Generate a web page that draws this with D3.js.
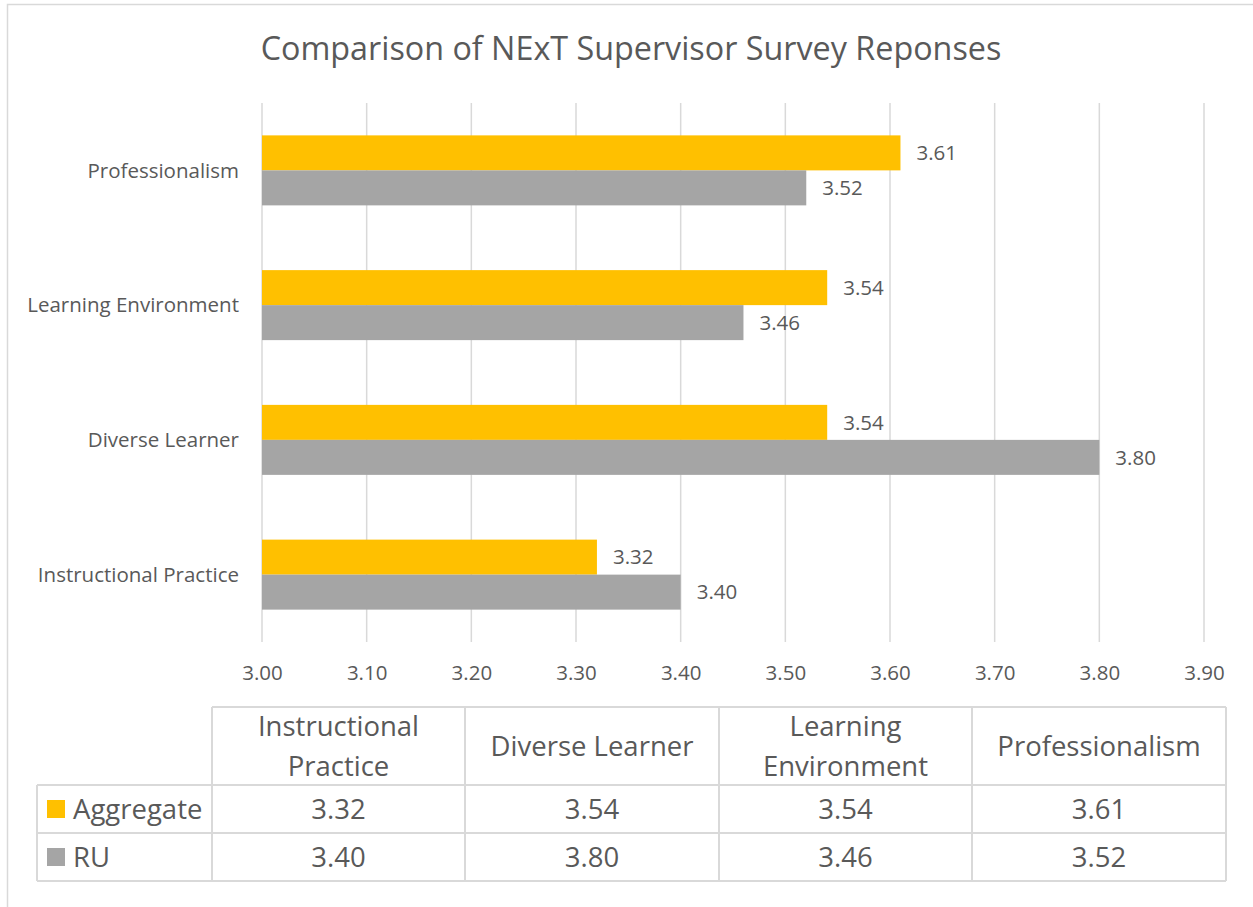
<!DOCTYPE html>
<html><head><meta charset="utf-8">
<script src="https://cdn.jsdelivr.net/npm/d3@7"></script>
<style>body{margin:0;background:#fff}svg{display:block;font-family:"Open Sans",sans-serif}</style>
</head><body><svg id="c" width="1253" height="907"></svg>
<script>
const categories = ["Instructional Practice","Diverse Learner","Learning Environment","Professionalism"];
const tableHeaders = [["Instructional","Practice"],["Diverse Learner"],["Learning","Environment"],["Professionalism"]];
const seriesNames = ["Aggregate","RU"];
const aggregate = [3.32,3.54,3.54,3.61];
const ru = [3.40,3.80,3.46,3.52];
const ticks = [3.00,3.10,3.20,3.30,3.40,3.50,3.60,3.70,3.80,3.90];
const colors = ["#FFC000","#A5A5A5"];
const title = "Comparison of NExT Supervisor Survey Reponses";

const svg = d3.select("#c");
const txt = "#595959", grid = "#D9D9D9";
svg.append("rect").attr("x",7.5).attr("y",4.5).attr("width",1260).attr("height",920)
  .attr("fill","#fff").attr("stroke","#D9D9D9").attr("stroke-width",1.5);

svg.append("text").attr("x",631).attr("y",60).attr("text-anchor","middle")
  .attr("font-size",32.3).attr("fill",txt).text(title);

const x = d3.scaleLinear().domain([3.0,3.9]).range([262,1204]);
const y = d3.scaleBand().domain(categories.slice().reverse()).range([103,642]).paddingInner(0).paddingOuter(0);
const series = [aggregate, ru];

svg.append("g").selectAll("line").data(ticks).join("line")
  .attr("x1",d=>x(d)).attr("x2",d=>x(d)).attr("y1",103).attr("y2",642)
  .attr("stroke",grid).attr("stroke-width",1.5);

const barH = 35;
categories.forEach((c,i)=>{
  const cy = y(c)+y.bandwidth()/2;
  series.forEach((s,k)=>{
    const top = cy - barH + k*barH;
    svg.append("rect").attr("x",x(3.0)).attr("y",top).attr("width",x(s[i])-x(3.0)).attr("height",barH)
      .attr("fill",colors[k]);
    svg.append("text").attr("x",x(s[i])+16).attr("y",top+barH/2).attr("dy","0.35em")
      .attr("font-size",20.5).attr("fill",txt).text(s[i].toFixed(2));
  });
  svg.append("text").attr("x",239).attr("y",cy).attr("dy","0.35em").attr("text-anchor","end")
    .attr("font-size",20.5).attr("fill",txt).text(c);
});

const ax = svg.append("g").attr("transform","translate(0,673)")
  .call(d3.axisBottom(x).tickValues(ticks).tickFormat(d3.format(".2f")).tickSize(0).tickPadding(0));
ax.select(".domain").remove();
ax.selectAll("text").attr("font-size",20.5).attr("fill",txt).attr("font-family","Open Sans").attr("dy","0.35em");

const colX = [212,465,719,972,1226];
const rowY = [707,785,833,881];
const tg = svg.append("g").attr("stroke","#D9D9D9").attr("stroke-width",2).attr("fill","none");
tg.append("line").attr("x1",212).attr("x2",1226).attr("y1",707).attr("y2",707);
[785,833,881].forEach(v=>tg.append("line").attr("x1",37).attr("x2",1226).attr("y1",v).attr("y2",v));
colX.forEach(v=>tg.append("line").attr("x1",v).attr("x2",v).attr("y1",707).attr("y2",881));
tg.append("line").attr("x1",37).attr("x2",37).attr("y1",785).attr("y2",881);

const fs = 27.5;
tableHeaders.forEach((h,i)=>{
  const cx=(colX[i]+colX[i+1])/2;
  const t = svg.append("text").attr("text-anchor","middle").attr("font-size",fs).attr("fill",txt);
  if(h.length===2){
    t.append("tspan").attr("x",cx).attr("y",736).text(h[0]);
    t.append("tspan").attr("x",cx).attr("y",776).text(h[1]);
  } else {
    t.append("tspan").attr("x",cx).attr("y",756).text(h[0]);
  }
});
series.forEach((s,k)=>{
  const cy=(rowY[k+1]+rowY[k+2])/2;
  svg.append("rect").attr("x",47).attr("y",cy-9).attr("width",18).attr("height",18).attr("fill",colors[k]);
  svg.append("text").attr("x",73).attr("y",cy).attr("dy","0.35em").attr("font-size",fs).attr("fill",txt).text(seriesNames[k]);
  s.forEach((v,i)=>{
    svg.append("text").attr("x",(colX[i]+colX[i+1])/2).attr("y",cy).attr("dy","0.35em")
      .attr("text-anchor","middle").attr("font-size",fs).attr("fill",txt).text(v.toFixed(2));
  });
});
</script></body></html>
